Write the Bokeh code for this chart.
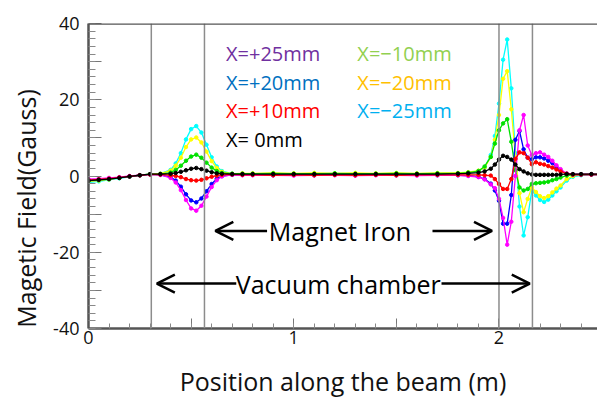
from bokeh.plotting import figure
from bokeh.models import (Span, Label, Arrow, OpenHead, FixedTicker, Range1d)
from bokeh.embed import file_html
from bokeh.resources import INLINE

# ---------------- data ----------------
x_pos = [0, 0.05, 0.1, 0.15, 0.2, 0.25, 0.3,
         0.35, 0.4, 0.425, 0.45, 0.475, 0.5, 0.525, 0.55, 0.575, 0.6, 0.625, 0.65, 0.7,
         0.75, 0.8, 0.9, 1.0, 1.1, 1.2, 1.3, 1.4, 1.5, 1.6, 1.7, 1.8,
         1.85, 1.9, 1.93, 1.96, 1.98, 2.0, 2.02, 2.04, 2.06, 2.08, 2.1, 2.12, 2.14,
         2.16, 2.18, 2.2, 2.22, 2.24, 2.26, 2.28, 2.3, 2.33, 2.36, 2.4, 2.45, 2.5]

field_m25 = [-1.7, -1.4, -1.0, -0.6, -0.2, 0.2, 0.5,
             0.6, 1.6, 3.3, 6.0, 9.6, 12.3, 13.1, 11.4, 8.2, 4.9, 2.5, 1.3, 0.6,
             0.5, 0.5, 0.6, 0.5, 0.5, 0.6, 0.5, 0.6, 0.5, 0.6, 0.6, 0.7,
             0.9, 1.3, 2.2, 5.5, 10.5, 19.0, 30.5, 35.8, 23.0, 6.0, -8.0, -15.6, -10.8,
             -3.8, -5.1, -6.3, -6.8, -6.2, -5.1, -4.0, -3.0, -1.2, -0.2, 0.2, 0.4, 0.4]
field_m20 = [-1.4, -1.2, -0.9, -0.5, -0.1, 0.2, 0.5,
             0.6, 1.4, 2.7, 4.8, 7.6, 9.6, 10.1, 8.8, 6.4, 3.9, 2.1, 1.1, 0.6,
             0.7, 0.7, 0.8, 0.7, 0.8, 0.7, 0.8, 0.7, 0.8, 0.7, 0.8, 0.8,
             1.0, 1.4, 2.2, 5.0, 9.5, 16.0, 25.5, 27.5, 17.5, 5.0, -4.5, -9.5, -6.0,
             -3.0, -4.2, -5.3, -5.8, -5.3, -4.3, -3.3, -2.5, -0.8, 0.0, 0.3, 0.4, 0.4]
field_m10 = [-1.3, -1.1, -0.8, -0.5, -0.1, 0.2, 0.5,
             0.5, 0.9, 1.6, 2.7, 4.0, 5.1, 5.6, 4.8, 3.5, 2.2, 1.3, 0.8, 0.6,
             0.6, 0.6, 0.7, 0.6, 0.6, 0.7, 0.6, 0.6, 0.7, 0.6, 0.7, 0.7,
             0.9, 1.3, 2.5, 5.0, 8.5, 12.0, 13.8, 14.9, 9.0, 1.5, -3.0, -3.8, -3.4,
             -2.1, -1.9, -1.8, -1.7, -1.5, -1.1, -0.8, -0.4, 0.1, 0.3, 0.4, 0.4, 0.4]
field_0 = [-1.2, -1.0, -0.8, -0.5, -0.1, 0.2, 0.5,
           0.5, 0.6, 0.8, 1.1, 1.5, 1.9, 2.1, 1.8, 1.4, 1.0, 0.7, 0.6, 0.5,
           0.5, 0.5, 0.5, 0.5, 0.5, 0.5, 0.5, 0.5, 0.5, 0.5, 0.5, 0.6,
           0.7, 0.9, 1.2, 1.9, 3.0, 4.3, 5.3, 5.0, 4.3, 3.0, 1.8, 1.2, 0.7,
           0.4, 0.3, 0.3, 0.3, 0.3, 0.3, 0.3, 0.4, 0.5, 0.5, 0.5, 0.5, 0.5]
field_p10 = [-1.1, -0.9, -0.7, -0.4, -0.1, 0.2, 0.4,
             0.4, 0.2, 0.0, -0.3, -0.8, -1.1, -1.2, -1.0, -0.6, -0.2, 0.1, 0.3, 0.4,
             0.3, 0.3, 0.2, 0.3, 0.2, 0.3, 0.2, 0.3, 0.2, 0.3, 0.3, 0.3,
             0.3, 0.3, 0.2, 0.1, -0.8, -2.1, -3.4, -3.4, -0.8, 4.5, 6.2, 6.0, 4.8,
             3.1, 3.6, 3.2, 3.0, 2.6, 2.2, 1.7, 1.2, 0.6, 0.4, 0.4, 0.4, 0.4]
field_p20 = [-1.0, -0.9, -0.7, -0.4, -0.1, 0.2, 0.4,
             0.3, -0.3, -1.2, -2.8, -4.8, -6.4, -6.9, -5.9, -4.0, -2.1, -0.7, 0.0, 0.3,
             0.3, 0.3, 0.2, 0.3, 0.2, 0.3, 0.2, 0.3, 0.2, 0.3, 0.2, 0.2,
             0.1, -0.2, -0.8, -2.0, -3.8, -6.5, -12.5, -12.5, -5.0, 9.5, 11.8, 7.0, 4.8,
             4.4, 4.9, 4.9, 4.6, 4.0, 3.4, 2.2, 1.4, 0.6, 0.4, 0.4, 0.4, 0.4]
field_p25 = [-0.8, -0.7, -0.5, -0.3, 0.0, 0.2, 0.4,
             0.3, -0.5, -1.7, -3.7, -6.3, -8.5, -9.1, -7.8, -5.4, -2.9, -1.1, -0.1, 0.3,
             0.2, 0.2, 0.2, 0.1, 0.2, 0.2, 0.1, 0.2, 0.2, 0.1, 0.2, 0.2,
             0.0, -0.3, -0.9, -2.2, -3.2, -6.0, -11.0, -18.0, -12.0, 0.0, 12.0, 16.0, 8.0,
             5.5, 6.0, 6.2, 5.6, 5.0, 4.0, 2.8, 1.8, 0.6, 0.4, 0.4, 0.4, 0.4]

series_labels = ["X=+25mm", "X=+20mm", "X=+10mm", "X= 0mm", "X=\u221210mm", "X=\u221220mm", "X=\u221225mm"]
boundaries = [0.306, 0.565, 2.0, 2.163]
x_ticks = [0, 0.5, 1, 1.5, 2, 2.5]
y_ticks = [-40, -30, -20, -10, 0, 10, 20, 30, 40]

FONT = "Open Sans"

p = figure(width=597, height=402, output_backend="svg", toolbar_location=None,
           x_range=Range1d(0, 2.48), y_range=Range1d(-40, 40),
           min_border_left=88, min_border_right=0, min_border_top=23, min_border_bottom=74)
p.outline_line_color = None
p.background_fill_color = "white"
p.border_fill_color = "white"
p.grid.visible = False

# boundary lines
for b in boundaries:
    p.add_layout(Span(location=b, dimension="height", line_color="#8c8c8c", line_width=1.5))
p.add_layout(Span(location=40, dimension="width", line_color="#555555", line_width=2.5))

line_cols = ["#FF00FF", "#0000FF", "#FF0000", "#000000", "#00E000", "#FFFF00", "#00FFFF"]
series = [field_p25, field_p20, field_p10, field_0, field_m10, field_m20, field_m25]
order = [6, 5, 4, 1, 0, 2, 3]
for i in order:
    p.line(x_pos, series[i], line_color=line_cols[i], line_width=1.3)
    p.scatter(x_pos, series[i], size=3.5, color=line_cols[i])

# axes
for ax in (p.xaxis[0], p.yaxis[0]):
    ax.axis_line_color = "#555555"
    ax.axis_line_width = 2.5
    ax.major_tick_line_color = "#777777"
    ax.minor_tick_line_color = "#888888"
    ax.major_tick_out = 0
    ax.minor_tick_out = 0
    ax.major_label_text_font = FONT
    ax.major_label_text_font_size = "18px"
    ax.major_label_text_color = "#111111"
    ax.axis_label_text_font = FONT
    ax.axis_label_text_font_size = "25px"
    ax.axis_label_text_font_style = "normal"
    ax.axis_label_text_color = "#111111"

p.xaxis.ticker = FixedTicker(ticks=x_ticks, minor_ticks=[round(0.1 * i, 1) for i in range(26)])
p.xaxis.major_label_overrides = {0.0: "0", 0.5: "", 1.0: "1", 1.5: "", 2.0: "2", 2.5: ""}
p.xaxis.major_tick_in = 10
p.xaxis.minor_tick_in = 5
p.xaxis.major_label_standoff = 2
p.xaxis.axis_label = "Position along the beam (m)"
p.xaxis.axis_label_standoff = 17

p.yaxis.ticker = FixedTicker(ticks=y_ticks, minor_ticks=list(range(-40, 41, 2)))
p.yaxis.major_label_overrides = {-40: "-40", -30: "", -20: "-20", -10: "", 0: "0",
                                 10: "", 20: "20", 30: "", 40: "40"}
p.yaxis.major_tick_in = 13
p.yaxis.minor_tick_in = 7
p.yaxis.major_label_standoff = 9
# trailing no-break spaces push the visible title lower, as in the reference
p.yaxis.axis_label = "Magetic Field(Gauss)" + "\u00a0" * 10
p.yaxis.axis_label_standoff = 7

# legend texts
leg_cols = ["#7030A0", "#0070C0", "#FF0000", "#000000", "#92D050", "#FFC000", "#00B0F0"]
leg_x = [0.67, 0.67, 0.67, 0.67, 1.31, 1.31, 1.31]
leg_y = [32.2, 24.6, 17.1, 9.7, 32.2, 24.6, 17.1]
for t, c, lx, ly in zip(series_labels, leg_cols, leg_x, leg_y):
    p.add_layout(Label(x=lx, y=ly, text=t, text_color=c, text_font=FONT,
                       text_font_size="20px", text_baseline="middle", text_align="left"))

# annotations
p.add_layout(Label(x=1.225, y=-14.4, text="Magnet Iron", text_font=FONT, text_font_size="25px",
                   text_align="center", text_baseline="middle", text_color="black"))
p.add_layout(Label(x=1.217, y=-28.2, text="Vacuum chamber", text_font=FONT, text_font_size="25px",
                   text_align="center", text_baseline="middle", text_color="black"))
arrows = [(0.87, 0.618, -14.4), (1.676, 1.966, -14.4), (0.72, 0.333, -28.2), (1.72, 2.15, -28.2)]
for xs, xe, yy in arrows:
    p.add_layout(Arrow(end=OpenHead(size=18, line_width=2.5, line_color="black"),
                       x_start=xs, y_start=yy, x_end=xe, y_end=yy,
                       line_width=2.5, line_color="black"))

open("out.html", "w").write(file_html(p, INLINE))
